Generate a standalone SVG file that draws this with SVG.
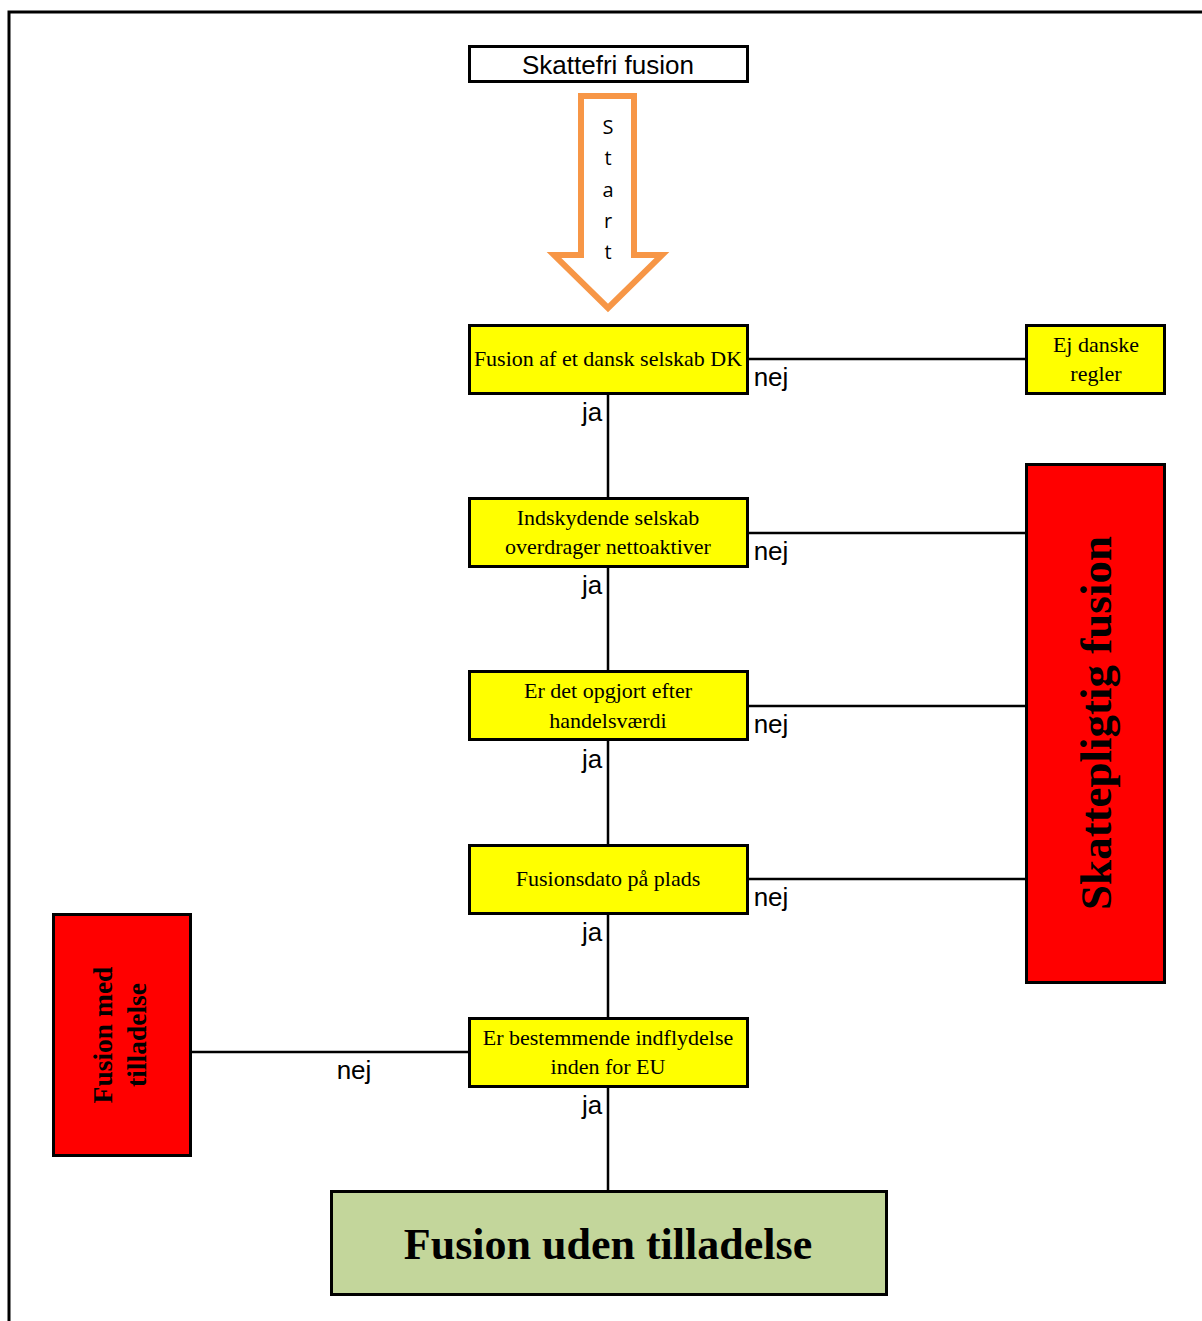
<svg xmlns="http://www.w3.org/2000/svg" width="1202" height="1321" viewBox="0 0 1202 1321">
  <style>
    .box { stroke: #000; stroke-width: 3; }
    .q { fill: #ffff00; }
    .red { fill: #ff0000; }
    .ok { fill: #c3d69b; }
    .serif { font-family: "Liberation Serif", "Times New Roman", serif; fill: #000; }
    .sans { font-family: "Liberation Sans", Arial, sans-serif; fill: #000; }
    .qt { font-size: 22px; text-anchor: middle; }
    .lbl { font-size: 26px; }
    .link { stroke: #000; stroke-width: 2.5; fill: none; }
  </style>
  <rect width="1202" height="1321" fill="#fff"/>
  <!-- page frame -->
  <path d="M9 1321 V12 H1202" fill="none" stroke="#000" stroke-width="3"/>

  <g id="connectors">
    <path class="link" d="M608 394 V498 M608 567 V671 M608 740 V845 M608 914 V1018 M608 1087 V1191"/>
    <path class="link" d="M748 359 H1026 M748 533 H1026 M748 706 H1026 M748 879 H1026 M191 1052 H469"/>
    <g class="sans lbl">
      <text x="592" y="421" text-anchor="middle">ja</text>
      <text x="592" y="594" text-anchor="middle">ja</text>
      <text x="592" y="768" text-anchor="middle">ja</text>
      <text x="592" y="941" text-anchor="middle">ja</text>
      <text x="592" y="1114" text-anchor="middle">ja</text>
      <text x="771" y="386" text-anchor="middle">nej</text>
      <text x="771" y="560" text-anchor="middle">nej</text>
      <text x="771" y="733" text-anchor="middle">nej</text>
      <text x="771" y="906" text-anchor="middle">nej</text>
      <text x="354" y="1079" text-anchor="middle">nej</text>
    </g>
  </g>

  <g id="title">
    <rect x="469.5" y="46.5" width="278" height="35" fill="#fff" class="box"/>
    <text x="608" y="74" class="sans" font-size="26" text-anchor="middle">Skattefri fusion</text>
  </g>

  <g id="start-arrow">
    <path d="M581 96 H634 V255 H662 L608 308 L554 255 H581 Z" fill="#fff" stroke="#f79646" stroke-width="6" stroke-linejoin="miter"/>
    <g font-family="Open Sans, Liberation Sans, sans-serif" font-size="20" text-anchor="middle" fill="#000">
      <text x="608" y="134">S</text>
      <text x="608" y="165">t</text>
      <text x="608" y="197">a</text>
      <text x="608" y="228">r</text>
      <text x="608" y="259">t</text>
    </g>
  </g>

  <g id="q1">
    <rect x="469.5" y="325.5" width="278" height="68" class="box q"/>
    <text x="608" y="366" class="serif qt">Fusion af et dansk selskab DK</text>
  </g>
  <g id="q2">
    <rect x="469.5" y="498.5" width="278" height="68" class="box q"/>
    <text x="608" y="525" class="serif qt">Indskydende selskab</text>
    <text x="608" y="554" class="serif qt">overdrager nettoaktiver</text>
  </g>
  <g id="q3">
    <rect x="469.5" y="671.5" width="278" height="68" class="box q"/>
    <text x="608" y="698" class="serif qt">Er det opgjort efter</text>
    <text x="608" y="728" class="serif qt">handelsværdi</text>
  </g>
  <g id="q4">
    <rect x="469.5" y="845.5" width="278" height="68" class="box q"/>
    <text x="608" y="886" class="serif qt">Fusionsdato på plads</text>
  </g>
  <g id="q5">
    <rect x="469.5" y="1018.5" width="278" height="68" class="box q"/>
    <text x="608" y="1045" class="serif qt">Er bestemmende indflydelse</text>
    <text x="608" y="1074" class="serif qt">inden for EU</text>
  </g>

  <g id="ej-danske-regler">
    <rect x="1026.5" y="325.5" width="138" height="68" class="box q"/>
    <text x="1096" y="352" class="serif qt">Ej danske</text>
    <text x="1096" y="381" class="serif qt">regler</text>
  </g>

  <g id="skattepligtig-fusion">
    <rect x="1026.5" y="464.5" width="138" height="518" class="box red"/>
    <text transform="translate(1111 723) rotate(-90)" class="serif" font-size="45" font-weight="bold" text-anchor="middle">Skattepligtig fusion</text>
  </g>

  <g id="fusion-med-tilladelse">
    <rect x="53.5" y="914.5" width="137" height="241" class="box red"/>
    <text transform="translate(112 1035) rotate(-90)" class="serif" font-size="27.5" font-weight="bold" text-anchor="middle">Fusion med</text>
    <text transform="translate(146 1035) rotate(-90)" class="serif" font-size="27.5" font-weight="bold" text-anchor="middle">tilladelse</text>
  </g>

  <g id="fusion-uden-tilladelse">
    <rect x="331.5" y="1191.5" width="555" height="103" class="box ok"/>
    <text x="608" y="1259" class="serif" font-size="44" font-weight="bold" text-anchor="middle">Fusion uden tilladelse</text>
  </g>
</svg>
